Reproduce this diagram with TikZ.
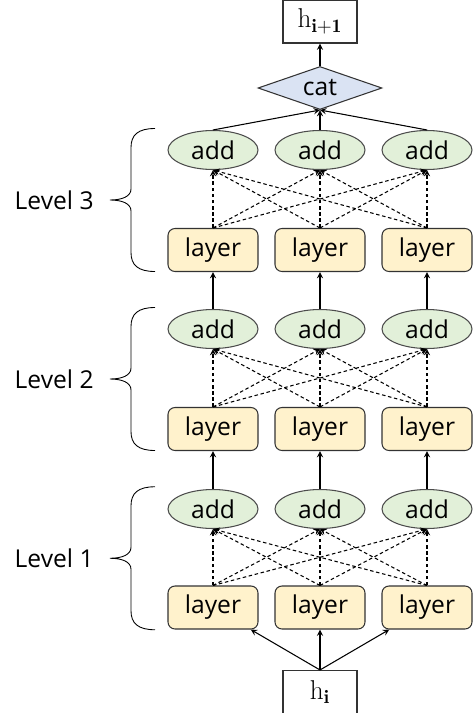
\documentclass[tikz,border=0pt]{standalone}
\usepackage{fontspec}
\setsansfont{Open Sans}
\usepackage{xcolor}
\usepackage{tikz}
\usetikzlibrary{shapes.geometric, arrows, positioning, calc}
\definecolor{addgreen}{HTML}{E2F0D9}
\definecolor{layeryellow}{HTML}{FFF2CC}
\definecolor{catblue}{HTML}{DAE3F3}
\tikzstyle{hstate} = [rectangle, minimum width=1.48cm, minimum height=0.86cm, text centered, draw=black!80, fill=white, font=\fontsize{15.5}{18}\selectfont]
\tikzstyle{layerbox} = [rectangle, rounded corners=4pt, minimum width=1.8cm, minimum height=0.86cm, text centered, draw=black!80, fill=layeryellow, font=\sffamily\fontsize{14}{16}\selectfont]
\tikzstyle{addop} = [ellipse, minimum width=1.8cm, minimum height=0.78cm, inner sep=0pt, text centered, draw=black!70, fill=addgreen, font=\sffamily\fontsize{14}{16}\selectfont]
\tikzstyle{catop} = [diamond, aspect=2.9, minimum width=2.48cm, minimum height=0.86cm, inner sep=0pt, text centered, draw=black!80, fill=catblue, font=\sffamily\fontsize{14}{16}\selectfont]
\tikzstyle{lvltext} = [anchor=east, font=\sffamily\fontsize{14}{16}\selectfont]
\tikzstyle{arrow} = [->, >=stealth]
\tikzstyle{dasharrow} = [->, >=stealth, dash pattern=on 2pt off 1.5pt]
\tikzset{levelbrace/.pic={
  \draw[line width=0.5pt] (0.9,1.43) .. controls (0.56,1.43) and (0.42,1.3) .. (0.42,1.05) -- (0.42,0.22) .. controls (0.42,0.07) and (0.24,0) .. (0,0) .. controls (0.24,0) and (0.42,-0.07) .. (0.42,-0.22) -- (0.42,-1.05) .. controls (0.42,-1.3) and (0.56,-1.43) .. (0.9,-1.43);
}}

\begin{document}
\begin{tikzpicture}[node distance=2cm, auto, on grid, line width=0.6pt]
  \useasboundingbox (0,0) rectangle (9.48,-14.26);

  \node (hnext) [hstate] at (6.4,-0.43) {$\mathrm{h}_{\mathbf{i+1}}$};
  \node (cat) [catop, below of=hnext, node distance=1.33cm] {cat};

  % level 3
  \node (add3b) [addop, below of=cat, node distance=1.24cm] {add};
  \node (add3a) [addop, left of=add3b, node distance=2.14cm] {add};
  \node (add3c) [addop, right of=add3b, node distance=2.14cm] {add};
  \node (layer3b) [layerbox, below of=add3b] {layer};
  \node (layer3a) [layerbox, left of=layer3b, node distance=2.14cm] {layer};
  \node (layer3c) [layerbox, right of=layer3b, node distance=2.14cm] {layer};

  % level 2
  \node (add2b) [addop, below of=layer3b, node distance=1.58cm] {add};
  \node (add2a) [addop, left of=add2b, node distance=2.14cm] {add};
  \node (add2c) [addop, right of=add2b, node distance=2.14cm] {add};
  \node (layer2b) [layerbox, below of=add2b] {layer};
  \node (layer2a) [layerbox, left of=layer2b, node distance=2.14cm] {layer};
  \node (layer2c) [layerbox, right of=layer2b, node distance=2.14cm] {layer};

  % level 1
  \node (add1b) [addop, below of=layer2b, node distance=1.6cm] {add};
  \node (add1a) [addop, left of=add1b, node distance=2.14cm] {add};
  \node (add1c) [addop, right of=add1b, node distance=2.14cm] {add};
  \node (layer1b) [layerbox, below of=add1b, node distance=1.97cm] {layer};
  \node (layer1a) [layerbox, left of=layer1b, node distance=2.14cm] {layer};
  \node (layer1c) [layerbox, right of=layer1b, node distance=2.14cm] {layer};

  \node (hcur) [hstate, below of=layer1b, node distance=1.69cm] {$\mathrm{h}_{\mathbf{i}}$};

  % braces and level names
  \coordinate (tip3) at ($(add3a)!0.5!(layer3a)+(-2.06,0)$);
  \coordinate (tip2) at ($(add2a)!0.5!(layer2a)+(-2.06,0)$);
  \coordinate (tip1) at ($(add1a)!0.5!(layer1a)+(-2.06,0)$);
  \pic at (tip3) {levelbrace};
  \pic at (tip2) {levelbrace};
  \pic at (tip1) {levelbrace};
  \node (lvl3) [lvltext] at ($(tip3)+(-0.2,0)$) {Level 3};
  \node (lvl2) [lvltext] at ($(tip2)+(-0.2,0)$) {Level 2};
  \node (lvl1) [lvltext] at ($(tip1)+(-0.2,0)$) {Level 1};

  \draw[arrow] (hcur.north) -- (layer1a);
  \draw[arrow] (hcur.north) -- (layer1b);
  \draw[arrow] (hcur.north) -- (layer1c);

  \draw[dasharrow] (layer1a.north) -- (add1a.south); \draw[dasharrow] (layer1a.north) -- (add1b.south); \draw[dasharrow] (layer1a.north) -- (add1c.south);
  \draw[dasharrow] (layer1b.north) -- (add1a.south); \draw[dasharrow] (layer1b.north) -- (add1b.south); \draw[dasharrow] (layer1b.north) -- (add1c.south);
  \draw[dasharrow] (layer1c.north) -- (add1a.south); \draw[dasharrow] (layer1c.north) -- (add1b.south); \draw[dasharrow] (layer1c.north) -- (add1c.south);

  \draw[arrow] (add1a) -- (layer2a);
  \draw[arrow] (add1b) -- (layer2b);
  \draw[arrow] (add1c) -- (layer2c);

  \draw[dasharrow] (layer2a.north) -- (add2a.south); \draw[dasharrow] (layer2a.north) -- (add2b.south); \draw[dasharrow] (layer2a.north) -- (add2c.south);
  \draw[dasharrow] (layer2b.north) -- (add2a.south); \draw[dasharrow] (layer2b.north) -- (add2b.south); \draw[dasharrow] (layer2b.north) -- (add2c.south);
  \draw[dasharrow] (layer2c.north) -- (add2a.south); \draw[dasharrow] (layer2c.north) -- (add2b.south); \draw[dasharrow] (layer2c.north) -- (add2c.south);

  \draw[arrow] (add2a) -- (layer3a);
  \draw[arrow] (add2b) -- (layer3b);
  \draw[arrow] (add2c) -- (layer3c);

  \draw[dasharrow] (layer3a.north) -- (add3a.south); \draw[dasharrow] (layer3a.north) -- (add3b.south); \draw[dasharrow] (layer3a.north) -- (add3c.south);
  \draw[dasharrow] (layer3b.north) -- (add3a.south); \draw[dasharrow] (layer3b.north) -- (add3b.south); \draw[dasharrow] (layer3b.north) -- (add3c.south);
  \draw[dasharrow] (layer3c.north) -- (add3a.south); \draw[dasharrow] (layer3c.north) -- (add3b.south); \draw[dasharrow] (layer3c.north) -- (add3c.south);

  \draw[arrow] (add3a.north) -- (cat.south);
  \draw[arrow] (add3b.north) -- (cat.south);
  \draw[arrow] (add3c.north) -- (cat.south);
  \draw[arrow] (cat) -- (hnext);
\end{tikzpicture}
\end{document}
